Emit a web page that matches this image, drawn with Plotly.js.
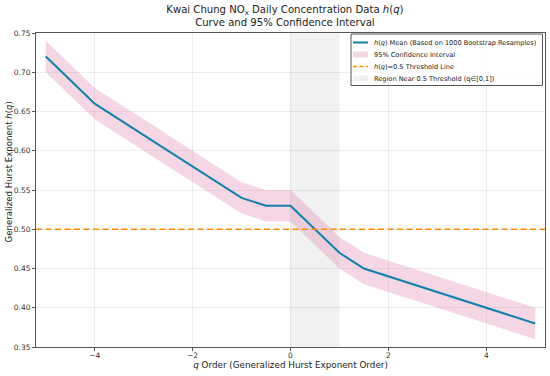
<!DOCTYPE html>
<html>
<head>
<meta charset="utf-8">
<script src="https://cdn.plot.ly/plotly-3.0.1.min.js"></script>
<style>html,body{margin:0;padding:0;background:#fff}#chart{width:550px;height:376px}</style>
</head>
<body>
<div id="chart"></div>
<script>
const qValues = [-5, -4, -3, -2, -1, -0.5, 0, 0.5, 1, 1.5, 2, 3, 4, 5];
const hMean   = [0.72, 0.66, 0.62, 0.58, 0.54, 0.53, 0.53, 0.50, 0.47, 0.45, 0.44, 0.42, 0.40, 0.38];
const ciUpper = [0.74, 0.68, 0.64, 0.60, 0.56, 0.55, 0.55, 0.52, 0.49, 0.47, 0.46, 0.44, 0.42, 0.40];
const ciLower = [0.70, 0.64, 0.60, 0.56, 0.52, 0.51, 0.51, 0.48, 0.45, 0.43, 0.42, 0.40, 0.38, 0.36];
const threshold = 0.5;
const regionQ = [0, 1];
const xRange = [-5.2, 5.2];
const legendLabels = [
  '<i>h</i>(<i>q</i>) Mean (Based on 1000 Bootstrap Resamples)',
  '95% Confidence Interval',
  '<i>h</i>(<i>q</i>)=0.5 Threshold Line',
  'Region Near 0.5 Threshold (q∈[0,1])'
];

const font = "DejaVu Sans, sans-serif";
const W = 550, H = 376;
const M = {l: 36, r: 5, t: 33, b: 29};
const pw = W - M.l - M.r, ph = H - M.t - M.b;
const px = x => (x - M.l) / pw;          // pixel -> paper x
const py = y => (H - M.b - y) / ph;      // pixel -> paper y

const meanColor = '#1380a9';
const bandColor = 'rgba(222,120,165,0.30)';
const threshColor = '#ff8c00';
const regionColor = 'rgba(128,128,128,0.11)';

const traces = [
  {x: qValues, y: ciLower, type: 'scatter', mode: 'lines', line: {width: 0, color: 'rgba(0,0,0,0)'},
   showlegend: false, hoverinfo: 'skip'},
  {x: qValues, y: ciUpper, type: 'scatter', mode: 'lines', line: {width: 0, color: 'rgba(0,0,0,0)'},
   fill: 'tonexty', fillcolor: bandColor, name: legendLabels[1], showlegend: false},
  {x: qValues, y: hMean, type: 'scatter', mode: 'lines', line: {width: 2, color: meanColor},
   name: legendLabels[0], showlegend: false},
  {x: xRange, y: [threshold, threshold], type: 'scatter', mode: 'lines',
   line: {width: 1.7, color: threshColor, dash: '6px,3.5px'},
   name: legendLabels[2], showlegend: false}
];

// custom legend (matplotlib-style compact box)
const rowY = [42.5, 54.5, 66.5, 78.5];
const symX0 = 353, symX1 = 368, textX = 372;
const shapes = [
  {type: 'rect', xref: 'x', yref: 'paper', x0: regionQ[0], x1: regionQ[1], y0: 0, y1: 1,
   fillcolor: regionColor, line: {width: 0}, layer: 'below'},
  {type: 'rect', xref: 'paper', yref: 'paper', x0: px(351), x1: px(542.5), y0: py(85.5), y1: py(34),
   fillcolor: 'rgba(255,255,255,0.85)', line: {width: 1, color: '#555'}, layer: 'above'},
  {type: 'line', xref: 'paper', yref: 'paper', x0: px(symX0), x1: px(symX1), y0: py(rowY[0]), y1: py(rowY[0]),
   line: {width: 2, color: meanColor}},
  {type: 'rect', xref: 'paper', yref: 'paper', x0: px(symX0), x1: px(symX1), y0: py(rowY[1] + 3), y1: py(rowY[1] - 3),
   fillcolor: bandColor, line: {width: 0}},
  {type: 'line', xref: 'paper', yref: 'paper', x0: px(symX0), x1: px(symX1), y0: py(rowY[2]), y1: py(rowY[2]),
   line: {width: 1.7, color: threshColor, dash: '4px,2.5px'}},
  {type: 'rect', xref: 'paper', yref: 'paper', x0: px(symX0), x1: px(symX1), y0: py(rowY[3] + 3), y1: py(rowY[3] - 3),
   fillcolor: regionColor, line: {width: 0}}
];

const annotations = legendLabels.map((t, i) => ({
  text: t, xref: 'paper', yref: 'paper', x: px(textX), y: py(rowY[i]), xanchor: 'left', yanchor: 'middle',
  showarrow: false, font: {size: 6.6, color: '#222', family: font}
}));
annotations.push({
  text: 'Generalized Hurst Exponent <i>h</i>(<i>q</i>)', textangle: -90,
  xref: 'paper', yref: 'paper', x: px(8.5), y: py(172), xanchor: 'center', yanchor: 'middle',
  showarrow: false, font: {size: 8.6, color: '#222', family: font}
});

const layout = {
  width: W, height: H,
  margin: M,
  paper_bgcolor: '#fff', plot_bgcolor: '#fff',
  font: {family: font, color: '#222', size: 8},
  showlegend: false,
  title: {text: 'Kwai Chung NO<sub>x</sub> Daily Concentration Data <i>h</i>(<i>q</i>)<br>Curve and 95% Confidence Interval',
          font: {size: 10.1, family: font, color: '#222'}, x: 0.518, xanchor: 'center', xref: 'container',
          yref: 'container', y: 0.965, yanchor: 'top'},
  xaxis: {range: xRange, dtick: 2, tick0: 0, showgrid: true, gridcolor: 'rgba(0,0,0,0.07)', zeroline: false,
          showline: true, linecolor: '#555', linewidth: 1, mirror: true, ticks: 'outside', ticklen: 3, tickcolor: '#555',
          tickfont: {size: 7.5, color: '#333'}, ticklabelstandoff: -2,
          title: {text: '<i>q</i> Order (Generalized Hurst Exponent Order)', font: {size: 8.8, color: '#222'}, standoff: 0}},
  yaxis: {range: [0.35, 0.75], dtick: 0.05, tickformat: '.2f', showgrid: true, gridcolor: 'rgba(0,0,0,0.07)', zeroline: false,
          showline: true, linecolor: '#555', linewidth: 1, mirror: true, ticks: 'outside', ticklen: 3, tickcolor: '#555',
          tickfont: {size: 7.5, color: '#333'}},
  shapes: shapes,
  annotations: annotations
};

Plotly.newPlot('chart', traces, layout, {displayModeBar: false, staticPlot: true});
</script>
</body>
</html>
